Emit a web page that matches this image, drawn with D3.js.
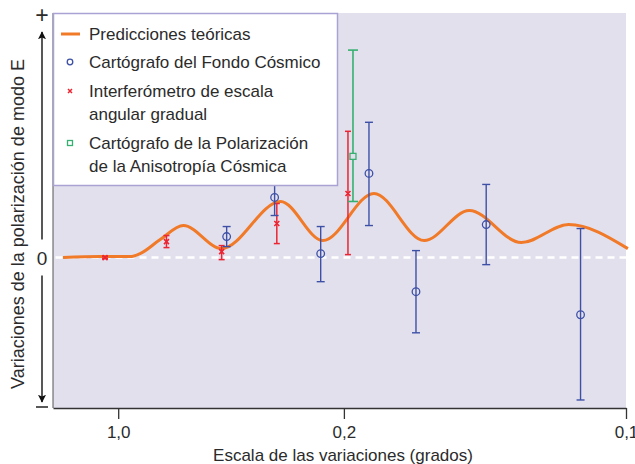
<!DOCTYPE html>
<html>
<head>
<meta charset="utf-8">
<script src="https://cdn.jsdelivr.net/npm/d3@7"></script>
<style>
  body { margin: 0; background: #fff; }
  text { font-family: "Liberation Sans", Arial, sans-serif; fill: #2b2b2b; }
</style>
</head>
<body>
<script>
var width = 635, height = 464;

// multipole l (x) vs. amplitude in arbitrary units (y)
var theoryL = [4, 122, 218, 250, 314, 388, 510, 698, 833, 996, 1156, 1300, 1466, 1617, 1806];
var theoryV = [0, 0.1, 0.1, 0.4, 1.8, 3.2, 0.9, 5.6, 1.7, 6.4, 1.7, 4.7, 1.5, 3.3, 0.9];

// Cartógrafo del Fondo Cósmico
var cbiL   = [526, 679, 826, 980, 1130, 1354, 1655];
var cbiV   = [2.1, 6.0, 0.4, 8.4, -3.4, 3.3, -5.7];
var cbiLo  = [1.1, 4.2, -2.4, 3.2, -7.5, -0.7, -14.2];
var cbiHi  = [3.1, 7.7, 3.1, 13.5, 0.7, 7.3, 2.9];

// Interferómetro de escala angular gradual
var dasiL  = [138, 334, 510, 686, 913];
var dasiV  = [0, 1.6, 0.6, 3.4, 6.4];
var dasiLo = [-0.1, 1.0, -0.2, 1.4, 0.3];
var dasiHi = [0.1, 2.2, 1.2, 5.4, 12.6];

// Cartógrafo de la Polarización de la Anisotropía Cósmica
var capL   = [929];
var capV   = [10.1];
var capLo  = [5.6];
var capHi  = [20.7];

var tickDeg = [1.0, 0.2, 0.1];
var tickLabels = ["1,0", "0,2", "0,1"];

var BLUE = "#3d50a6", RED = "#ec2532", GREEN = "#36b070", ORANGE = "#f07a28";

var margin = {left: 53, right: 9, top: 13, bottom: 56};

var x = d3.scaleLinear().domain([-28, 1800]).range([margin.left, width - margin.right]);
var y = d3.scaleLinear().domain([-15, 24.4]).range([height - margin.bottom, margin.top]);

var svg = d3.select("body").append("svg")
    .attr("width", width)
    .attr("height", height);

// plot background
svg.append("rect")
    .attr("x", x.range()[0])
    .attr("y", y.range()[1])
    .attr("width", x.range()[1] - x.range()[0])
    .attr("height", y.range()[0] - y.range()[1])
    .attr("fill", "#e3e0ee");

// zero line
svg.append("line")
    .attr("x1", x(-20)).attr("x2", x.range()[1])
    .attr("y1", y(0)).attr("y2", y(0))
    .attr("stroke", "#fff")
    .attr("stroke-width", 2.5)
    .attr("stroke-dasharray", "7,5");

// theory curve
var theory = theoryL.map(function(l, i) { return {l: l, v: theoryV[i]}; });
svg.append("path")
    .datum(theory)
    .attr("fill", "none")
    .attr("stroke", ORANGE)
    .attr("stroke-width", 3)
    .attr("d", d3.line()
        .x(function(d) { return x(d.l); })
        .y(function(d) { return y(d.v); })
        .curve(d3.curveMonotoneX));

function makeSet(L, V, Lo, Hi) {
    return L.map(function(l, i) { return {l: l, v: V[i], lo: Lo[i], hi: Hi[i]}; });
}

function errorBars(data, color, cap, sw) {
    var g = svg.append("g")
        .attr("stroke", color)
        .attr("stroke-width", sw)
        .attr("fill", "none");
    var e = g.selectAll("g").data(data).enter().append("g");
    e.append("line")
        .attr("x1", function(d) { return x(d.l); })
        .attr("x2", function(d) { return x(d.l); })
        .attr("y1", function(d) { return y(d.lo); })
        .attr("y2", function(d) { return y(d.hi); });
    e.append("line")
        .attr("x1", function(d) { return x(d.l) - cap; })
        .attr("x2", function(d) { return x(d.l) + cap; })
        .attr("y1", function(d) { return y(d.lo); })
        .attr("y2", function(d) { return y(d.lo); });
    e.append("line")
        .attr("x1", function(d) { return x(d.l) - cap; })
        .attr("x2", function(d) { return x(d.l) + cap; })
        .attr("y1", function(d) { return y(d.hi); })
        .attr("y2", function(d) { return y(d.hi); });
    return e;
}

var dasi = errorBars(makeSet(dasiL, dasiV, dasiLo, dasiHi), RED, 3, 1.5);
dasi.append("path")
    .attr("d", function(d) {
        var cx = x(d.l), cy = y(d.v), s = 2.5;
        return "M" + (cx - s) + "," + (cy - s) + "L" + (cx + s) + "," + (cy + s) +
               "M" + (cx - s) + "," + (cy + s) + "L" + (cx + s) + "," + (cy - s);
    })
    .attr("stroke-width", 1.6);

var cap = errorBars(makeSet(capL, capV, capLo, capHi), GREEN, 5, 1.6);
cap.append("rect")
    .attr("x", function(d) { return x(d.l) - 3; })
    .attr("y", function(d) { return y(d.v) - 3; })
    .attr("width", 6).attr("height", 6)
    .attr("fill", "#e3e0ee")
    .attr("stroke-width", 1.3);

var cbi = errorBars(makeSet(cbiL, cbiV, cbiLo, cbiHi), BLUE, 4, 1.4);
cbi.append("circle")
    .attr("cx", function(d) { return x(d.l); })
    .attr("cy", function(d) { return y(d.v); })
    .attr("r", 3.8)
    .attr("fill", "none")
    .attr("stroke-width", 1.3);

// left edge & x axis
svg.append("line")
    .attr("x1", x.range()[0]).attr("x2", x.range()[0])
    .attr("y1", y.range()[1]).attr("y2", y.range()[0])
    .attr("stroke", "#555").attr("stroke-width", 1);

var xAxis = svg.append("g")
    .attr("transform", "translate(0," + y.range()[0] + ")")
    .call(d3.axisBottom(x)
        .tickValues(tickDeg.map(function(t) { return 180 / t; }))
        .tickFormat(function(d, i) { return tickLabels[i]; })
        .tickSize(11)
        .tickPadding(7)
        .tickSizeOuter(0));
xAxis.select(".domain").attr("stroke", "#333").attr("stroke-width", 1.5);
xAxis.selectAll(".tick line").attr("stroke", "#333").attr("stroke-width", 1.3);
xAxis.selectAll("text")
    .style("font-family", "Liberation Sans, Arial, sans-serif")
    .style("font-size", "17px")
    .attr("fill", "#2b2b2b");

svg.append("text")
    .attr("x", 343).attr("y", 461)
    .attr("text-anchor", "middle")
    .style("font-size", "17px")
    .text("Escala de las variaciones (grados)");

// legend box
var leg = svg.append("g");
leg.append("rect")
    .attr("x", 53.5).attr("y", 13.5)
    .attr("width", 284).attr("height", 172)
    .attr("fill", "#fff")
    .attr("stroke", "#a9a3d3")
    .attr("stroke-width", 1.5);
leg.append("line")
    .attr("x1", 61).attr("x2", 80).attr("y1", 34).attr("y2", 34)
    .attr("stroke", ORANGE).attr("stroke-width", 3);
leg.append("circle")
    .attr("cx", 70).attr("cy", 62).attr("r", 2.8)
    .attr("fill", "none").attr("stroke", BLUE).attr("stroke-width", 1.3);
leg.append("path")
    .attr("d", "M68,89L72,93M68,93L72,89")
    .attr("stroke", RED).attr("stroke-width", 1.5);
leg.append("rect")
    .attr("x", 67.5).attr("y", 140.5).attr("width", 5).attr("height", 5)
    .attr("fill", "none").attr("stroke", GREEN).attr("stroke-width", 1.3);

var legText = [
    ["Predicciones teóricas", 40],
    ["Cartógrafo del Fondo Cósmico", 68],
    ["Interferómetro de escala", 97],
    ["angular gradual", 120],
    ["Cartógrafo de la Polarización", 149],
    ["de la Anisotropía Cósmica", 172]
];
leg.selectAll("text.leg")
    .data(legText)
    .enter().append("text")
    .attr("class", "leg")
    .attr("x", 89)
    .attr("y", function(d) { return d[1]; })
    .style("font-size", "17px")
    .text(function(d) { return d[0]; });

// vertical arrow axis
var ax = 42;
svg.append("defs").append("marker")
    .attr("id", "arr")
    .attr("viewBox", "0 0 10 10")
    .attr("refX", 9).attr("refY", 5)
    .attr("markerWidth", 8).attr("markerHeight", 10)
    .attr("markerUnits", "userSpaceOnUse")
    .attr("orient", "auto")
    .append("path")
    .attr("d", "M0,0L10,5L0,10L2,5Z")
    .attr("fill", "#111");

svg.append("line")
    .attr("x1", ax).attr("x2", ax)
    .attr("y1", y(0) - 18).attr("y2", 32)
    .attr("stroke", "#111").attr("stroke-width", 1.4)
    .attr("marker-end", "url(#arr)");
svg.append("line")
    .attr("x1", ax).attr("x2", ax)
    .attr("y1", y(0) + 18).attr("y2", 402)
    .attr("stroke", "#111").attr("stroke-width", 1.4)
    .attr("marker-end", "url(#arr)");

svg.append("text")
    .attr("x", ax).attr("y", y(0) + 7)
    .attr("text-anchor", "middle")
    .style("font-size", "19px")
    .text("0");
svg.append("text")
    .attr("x", ax).attr("y", y.range()[1] + 10)
    .attr("text-anchor", "middle")
    .style("font-size", "23px")
    .text("+");
svg.append("line")
    .attr("x1", ax - 6).attr("x2", ax + 6)
    .attr("y1", y.range()[0] - 1).attr("y2", y.range()[0] - 1)
    .attr("stroke", "#222").attr("stroke-width", 1.5);

svg.append("text")
    .attr("transform", "translate(24,224) rotate(-90)")
    .attr("text-anchor", "middle")
    .style("font-size", "18px")
    .text("Variaciones de la polarización de modo E");
</script>
</body>
</html>
